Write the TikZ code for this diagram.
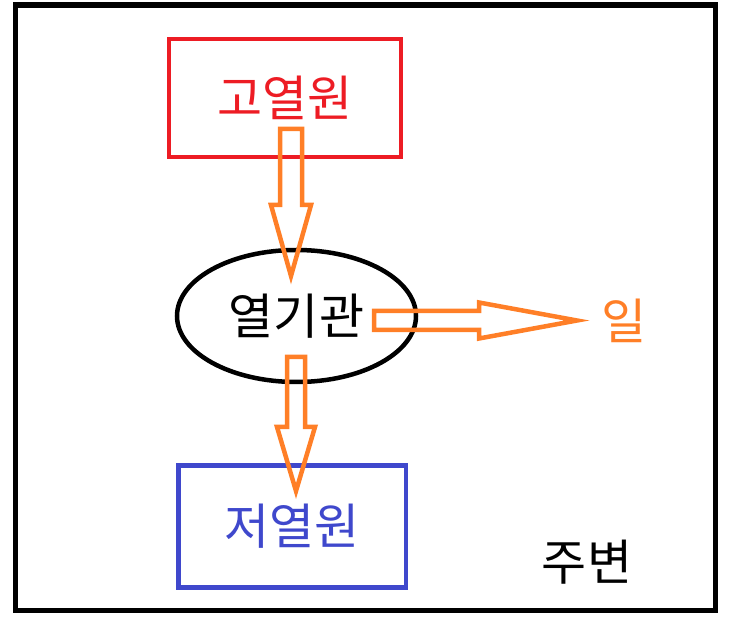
\documentclass[tikz,border=0pt]{standalone}
\usepackage{fontspec}
\setmainfont{Noto Sans CJK KR}
\usetikzlibrary{shapes}
\definecolor{hotred}{HTML}{ED1C24}
\definecolor{coldblue}{HTML}{3F48CC}
\definecolor{workorange}{HTML}{FF7F27}
\tikzstyle{line} = [line width=4.5pt]
\tikzstyle{label} = [inner sep=0pt,font=\fontsize{49}{55}\selectfont]
\tikzstyle{box} = [label,draw,line,rectangle]
\tikzstyle{hollow} = [line,workorange]
% block arrow: start, angle, head base, tip, shaft half width, head half width
\newcommand\hollowarrow[6]{%
  \begin{scope}[shift={(#1)},rotate=#2]
    \draw[hollow] (0,-#5) -- (#3,-#5) -- (#3,-#6) -- (#4,0) -- (#3,#6) -- (#3,#5) -- (0,#5) -- cycle;
  \end{scope}}

\begin{document}
\begin{tikzpicture}[x=1pt,y=-1pt]
        \useasboundingbox (0,0) rectangle (739,617);
        % surroundings
        \draw[line width=5.5pt] (15.5,5) rectangle (715.5,610.5);
        % reservoirs and engine
        \node[box,hotred,minimum width=232,minimum height=118] (hot) at (285,98) {고열원};
        \node[box,coldblue,minimum width=227.5,minimum height=122] (cold) at (292,526.5) {저열원};
        \node[label,draw,line,ellipse,minimum width=239,minimum height=132] (engine) at (296.5,316) {열기관};
        % labels
        \node[label,workorange] (work) at (624,321) {일};
        \node[label] (env) at (587,562) {주변};
        % heat and work arrows
        \coordinate (qin) at (291,129);
        \coordinate (w) at (374,320.5);
        \coordinate (qout) at (296,357);
        \hollowarrow{qin}{-90}{76}{147}{11}{20}
        \hollowarrow{w}{0}{105}{203}{9.5}{18}
        \hollowarrow{qout}{-90}{70}{134}{9}{19}
\end{tikzpicture}
\end{document}
